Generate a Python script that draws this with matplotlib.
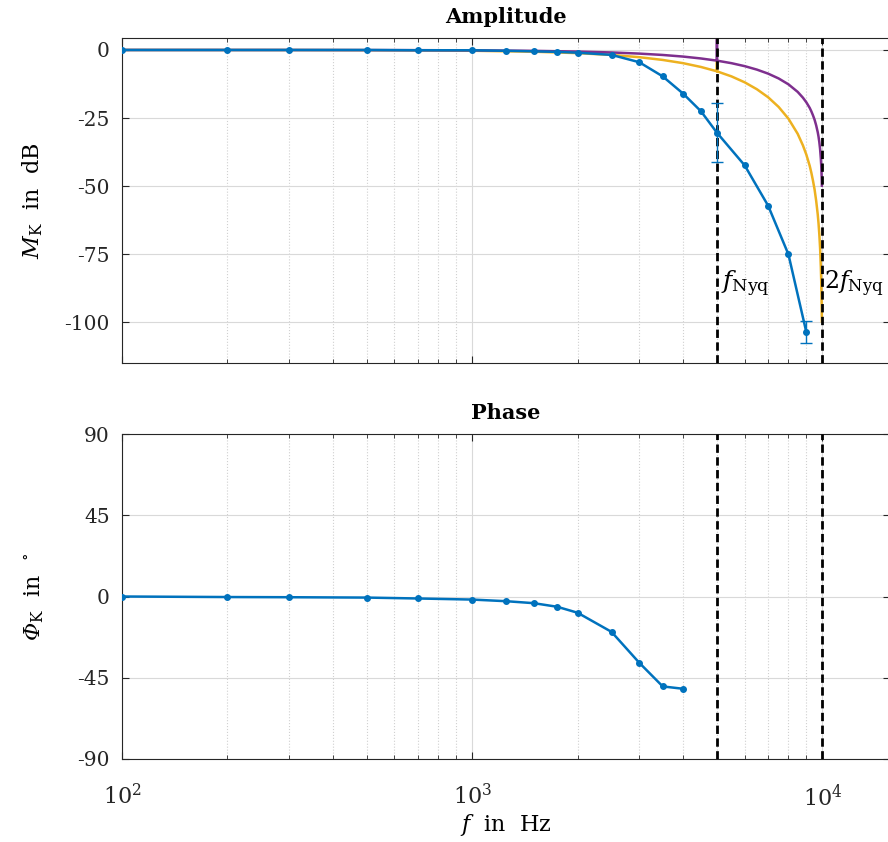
import matplotlib
matplotlib.use("Agg")
import matplotlib.pyplot as plt
import numpy as np

plt.rcParams['font.family'] = ['DejaVu Serif']
plt.rcParams['mathtext.fontset'] = 'dejavuserif'
# custom math font set used only for the phase label (italic Greek)
plt.rcParams['mathtext.rm'] = 'DejaVu Serif:italic'
plt.rcParams['mathtext.it'] = 'DejaVu Serif:italic'
plt.rcParams['mathtext.sf'] = 'DejaVu Serif'
plt.rcParams['axes.unicode_minus'] = False

# measured data
freq = [100, 200, 300, 500, 700, 1000, 1250, 1500, 1750, 2000, 2500, 3000,
        3500, 4000, 4500, 5000, 6000, 7000, 8000, 9000]
mag_db = [0.0, 0.0, 0.0, 0.0, -0.1, -0.1, -0.3, -0.5, -0.7, -1.0, -1.8, -4.5,
          -9.7, -16.0, -22.5, -30.4, -42.4, -57.2, -75.1, -103.7]
err_freq = [5000, 9000]
err_low = [-41.0, -107.8]
err_high = [-19.4, -99.5]
err_center = [-30.4, -103.7]

phase_freq = [100, 200, 300, 500, 700, 1000, 1250, 1500, 1750, 2000, 2500,
              3000, 3500, 4000]
phase_deg = [0.0, -0.3, -0.4, -0.6, -1.1, -1.7, -2.6, -3.7, -5.7, -9.0,
             -19.6, -36.7, -49.8, -51.1]

# model curves
model_freq = [100, 300, 500, 700, 1000, 1500, 2000, 2500, 3000, 3500, 4000,
              4500, 5000, 5000, 5000, 5500, 6000, 6500, 7000, 7500, 8000, 8500,
              8800, 9000, 9200, 9300, 9400, 9500, 9600, 9700, 9750, 9800,
              9850, 9900, 9925, 9950, 9960, 9968]
purple_db = [0.0, -0.01, -0.04, -0.07, -0.14, -0.32, -0.58, -0.91, -1.33,
             -1.83, -2.42, -3.12, -3.92, 10.0, -3.92, -4.85, -5.94, -7.21,
             -8.69, -10.46, -12.62, -15.39, -17.53, -19.23, -21.27, -22.54,
             -24.00, -25.61, -27.69, -30.21, -31.82, -33.81, -36.33, -39.91,
             -42.43, -45.98, -47.91, -49.87]
yellow_db = [0.0, -0.02, -0.07, -0.14, -0.29, -0.64, -1.16, -1.82, -2.65,
             -3.66, -4.84, -6.24, -7.84, -3.92, -7.84, -9.70, -11.88, -14.42,
             -17.37, -20.92, -25.24, -30.78, -35.06, -38.46, -42.54, -45.08,
             -48.00, -51.22, -55.38, -60.42, -63.64, -67.62, -72.66, -79.82,
             -84.86, -91.96, -95.82, -99.74]

f_nyq = 5000
f_lines = [5000, 10000]

BLUE = '#0072BD'
YELLOW = '#EDB120'
PURPLE = '#7E2F8E'

fig = plt.figure(figsize=(8.88, 8.42), dpi=100)
ax1 = fig.add_axes([122/888, 1-363/842, 768/888, 325/842])
ax2 = fig.add_axes([122/888, 1-759/842, 768/888, 325/842])

for ax in (ax1, ax2):
    ax.set_xscale('log')
    ax.set_xlim(100, 15600)
    ax.grid(True, which='major', color='#d9d9d9', lw=0.8, ls='-')
    ax.grid(True, which='minor', axis='x', color='#d0d0d0', lw=0.8, ls=':')
    ax.set_axisbelow(True)
    ax.tick_params(which='both', direction='in', top=True, right=True,
                   labelsize=14.5, colors='#262626', length=5, pad=9)
    ax.tick_params(which='minor', length=3)
    for s in ax.spines.values():
        s.set_color('#262626')
        s.set_linewidth(0.8)
    for fl in f_lines:
        ax.axvline(fl, color='black', lw=2, ls=(0, (3, 1.6)), zorder=4)

# Amplitude
ax1.plot(model_freq, yellow_db, color=YELLOW, lw=1.8, zorder=2)
ax1.plot(model_freq, purple_db, color=PURPLE, lw=1.8, zorder=2)
ax1.plot(freq, mag_db, color=BLUE, lw=1.8, marker='o', ms=4, zorder=5)
yerr = [np.array(err_center) - np.array(err_low),
        np.array(err_high) - np.array(err_center)]
ax1.errorbar(err_freq, err_center, yerr=yerr, fmt='none', ecolor=BLUE,
             elinewidth=1.0, capsize=4, capthick=1.0, zorder=6)
ax1.set_ylim(-115, 4.4)
ax1.set_yticks([0, -25, -50, -75, -100])
ax1.set_yticklabels(['0', '-25', '-50', '-75', '-100'])
ax1.tick_params(labelbottom=False)
ax1.set_title('Amplitude', fontsize=15, fontweight='bold', pad=11)
ax1.set_ylabel(r'$M_{\mathrm{K}}$  in  dB', fontsize=16, labelpad=14)
ax1.text(f_nyq * 1.03, -86, r'$f_{\mathrm{Nyq}}$', fontsize=18, va='center',
         ha='left')
ax1.text(2 * f_nyq * 1.008, -86, r'$2f_{\mathrm{Nyq}}$', fontsize=17,
         va='center', ha='left')

# Phase
ax2.plot(phase_freq, phase_deg, color=BLUE, lw=1.8, marker='o', ms=4, zorder=5)
ax2.set_ylim(-90, 90)
ax2.set_yticks([90, 45, 0, -45, -90])
ax2.set_yticklabels(['90', '45', '0', '-45', '-90'])
ax2.set_title('Phase', fontsize=15, fontweight='bold', pad=11)
ylab = ax2.set_ylabel(r'$Φ_{\mathsf{K}}\mathsf{\ \ in\ \ }^{\mathsf{\circ}}$',
                      fontsize=16, labelpad=22)
ylab.set_math_fontfamily('custom')
ax2.set_xlabel(r'$f$  in  Hz', fontsize=16, labelpad=1)
ax2.tick_params(axis='x', labelsize=16, pad=18)

fig.savefig('out.png', dpi=100)
